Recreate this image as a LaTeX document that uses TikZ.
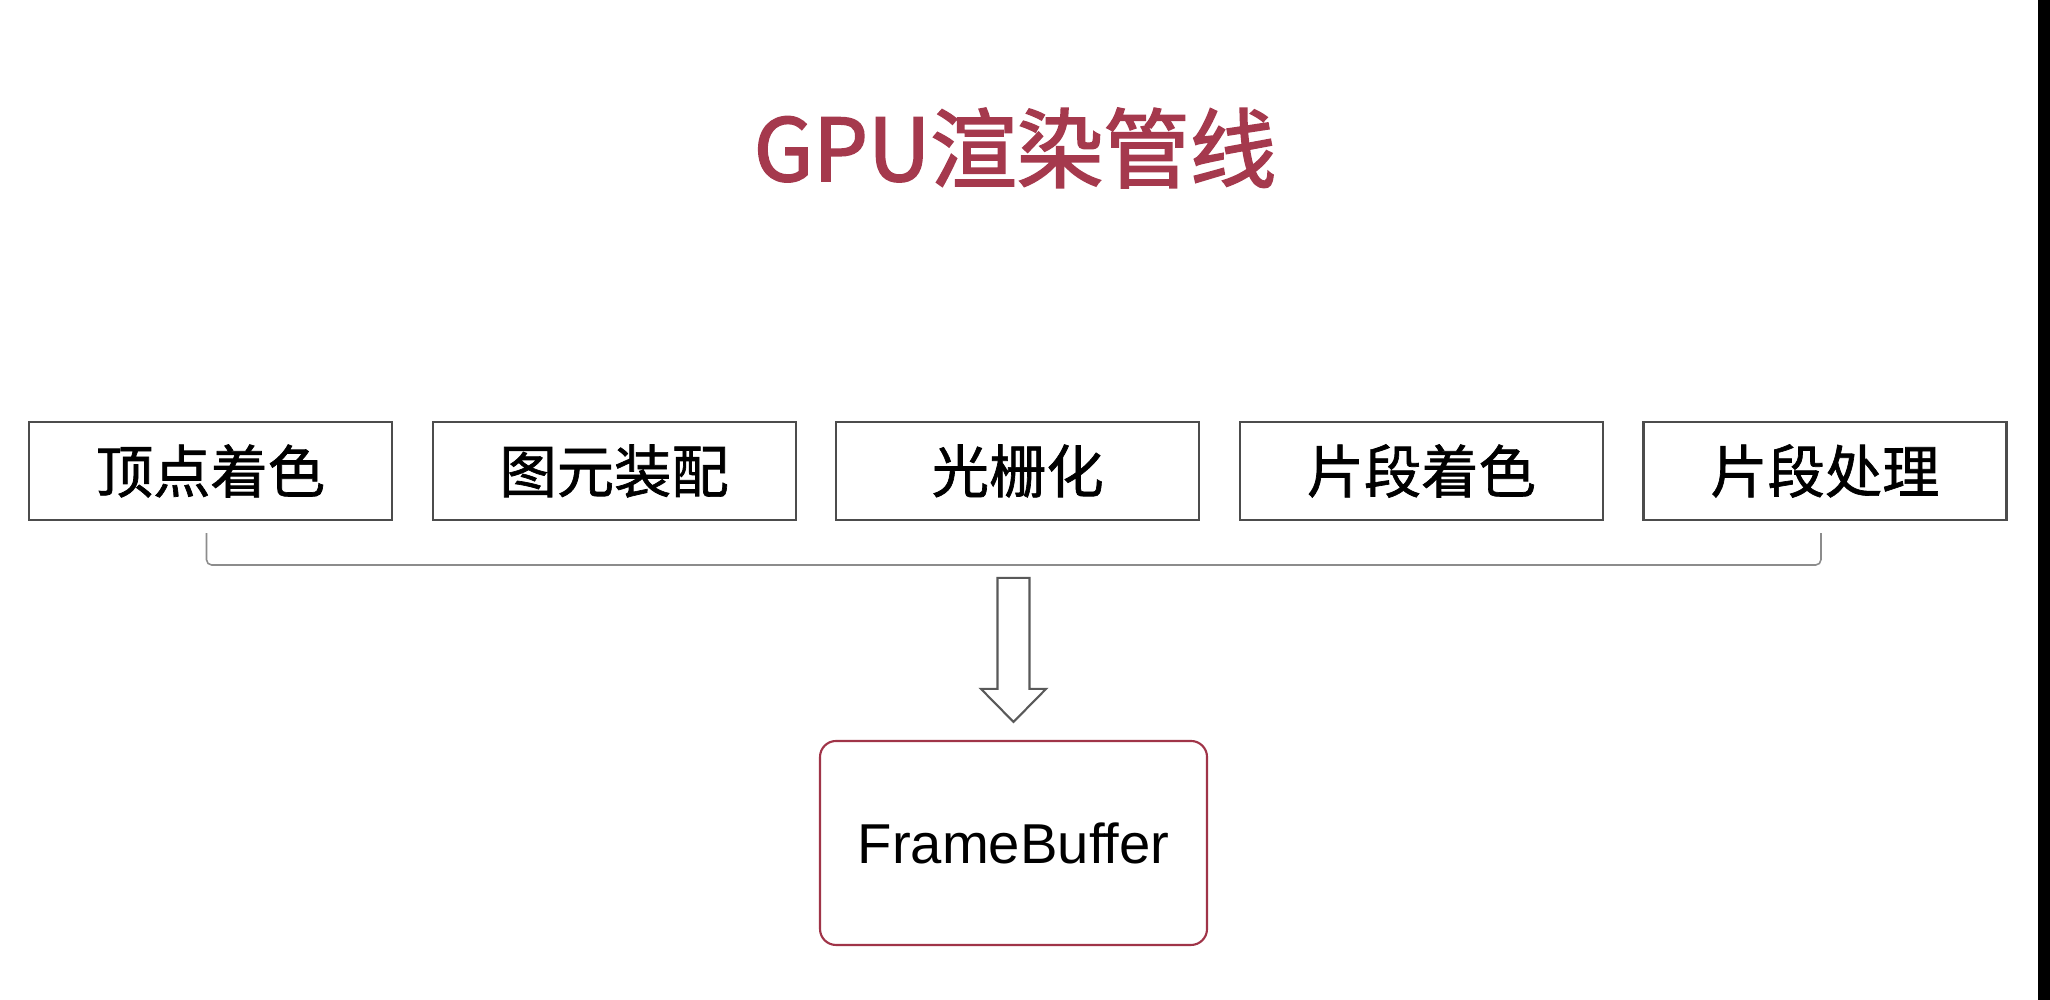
\documentclass[tikz,border=0pt]{standalone}
\usepackage{fontspec}
\usepackage{tikz}
\usetikzlibrary{positioning}
\setmainfont{Liberation Sans}
\newfontfamily\cjk{Noto Sans CJK SC}
\newfontfamily\cjkthick{Noto Sans CJK SC}[FakeBold=1.2]
\newfontfamily\cjktitle{Noto Sans CJK SC}[FakeBold=2]
\definecolor{titlered}{RGB}{165,57,77}
\definecolor{framered}{RGB}{160,52,72}

\begin{document}
\begin{tikzpicture}[
  stage/.style={draw=black!70,line width=0.6pt,minimum width=3.63cm,minimum height=0.98cm,
    inner sep=0pt,font=\cjkthick\fontsize{16.3}{16.3}\selectfont},
  bracket/.style={draw=black!45,line width=0.45pt,rounded corners=1.5pt},
  hollow/.style={draw=black!65,line width=0.6pt,line join=miter},
  node distance=0.385cm]
\useasboundingbox (0,0) rectangle (20.5,10);
\fill[black] (20.38,0) rectangle (20.5,10);

\node[text=titlered,font=\cjktitle\fontsize{24.6}{24.6}\selectfont] (title) at (10.15,8.52) {GPU渲染管线};

\node[stage] (vert) at (2.105,5.29) {顶点着色};
\node[stage,right=of vert] (prim) {图元装配};
\node[stage,right=of prim] (rast) {光栅化};
\node[stage,right=of rast] (shade) {片段着色};
\node[stage,right=of shade] (frag) {片段处理};

\draw[bracket] ([xshift=-0.04cm,yshift=-0.12cm]vert.south) -- ++(0,-0.32)
  -| ([xshift=-0.04cm,yshift=-0.12cm]frag.south);

\node[draw=framered,line width=0.6pt,rounded corners=0.16cm,minimum width=3.87cm,minimum height=2.04cm,
  font=\fontsize{16}{16}\selectfont] (fb) at (10.135,1.57) {FrameBuffer};

\coordinate (tip) at ([yshift=0.18cm]fb.north);
\draw[hollow] (tip) -- ++(-0.325,0.33) -- ++(0.165,0) -- ++(0,1.11) -- ++(0.32,0)
  -- ++(0,-1.11) -- ++(0.165,0) -- cycle;

\end{tikzpicture}
\end{document}
